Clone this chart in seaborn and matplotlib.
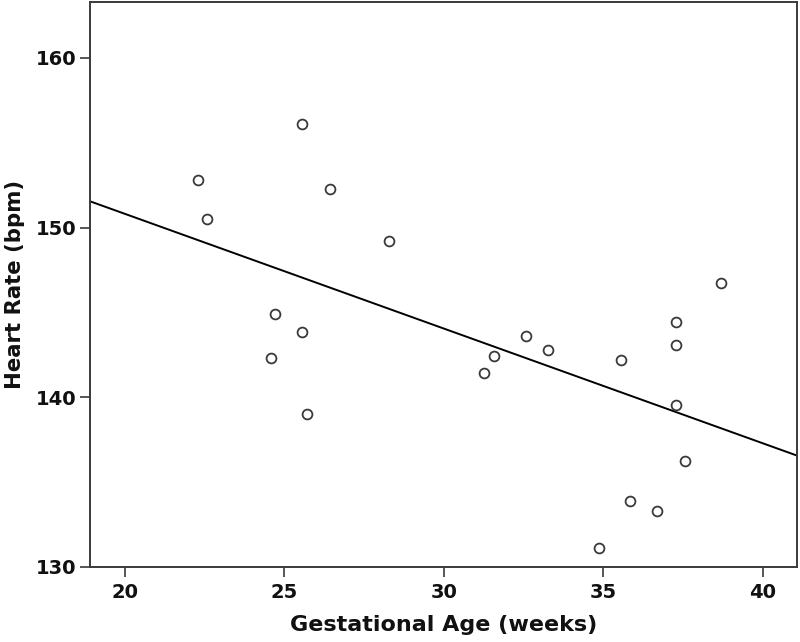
import numpy as np
import pandas as pd
import matplotlib
matplotlib.use("Agg")
import matplotlib.pyplot as plt
import seaborn as sns

# ── Data ──────────────────────────────────────────────────────────────────────

GEST_AGE = [22.29, 22.57, 25.56, 26.42, 28.28, 24.70, 25.56, 24.57, 25.71,
            31.27, 31.57, 32.56, 33.27, 35.55, 37.27, 37.27, 37.27, 38.70,
            37.56, 35.84, 36.69, 34.85]
HEART_RATE = [152.79, 150.52, 156.13, 152.26, 149.22, 144.92, 143.84, 142.30,
              139.00, 141.44, 142.45, 143.60, 142.78, 142.19, 144.45, 143.05,
              139.56, 146.75, 136.26, 133.86, 133.27, 131.13]

X_TICKS = [20, 25, 30, 35, 40]
Y_TICKS = [130, 140, 150, 160]

FRAME = "#3a3a3a"

sns.set_style("ticks")
plt.rcParams["font.family"] = ["DejaVu Sans"]

df = pd.DataFrame({"age": GEST_AGE, "hr": HEART_RATE})

fig = plt.figure(figsize=(8, 6.42), dpi=100)
ax = fig.add_axes([0.1125, 0.1173, 0.884, 0.8796])

# limits first so the fit line spans the full frame
ax.set_xlim(18.9, 41.08)
ax.set_ylim(130, 163.3)

sns.regplot(
    data=df, x="age", y="hr", ax=ax, ci=None, truncate=False,
    scatter_kws=dict(facecolors="white", edgecolors=FRAME, s=50,
                     linewidths=1.3, alpha=1, zorder=3),
    line_kws=dict(color="black", lw=1.4, zorder=2),
)

ax.set_xticks(X_TICKS)
ax.set_yticks(Y_TICKS)
ax.tick_params(axis="both", length=7.5, width=1.2, color=FRAME,
               labelsize=14, labelcolor="#111111")
ax.tick_params(axis="x", pad=4.5)
ax.tick_params(axis="y", pad=2)
for lab in ax.get_xticklabels() + ax.get_yticklabels():
    lab.set_fontweight("bold")

for spine in ax.spines.values():
    spine.set_visible(True)
    spine.set_edgecolor(FRAME)
    spine.set_linewidth(1.4)

ax.set_xlabel("Gestational Age (weeks)", fontsize=16, fontweight="bold",
              color="#111111", labelpad=9)
ax.set_ylabel("Heart Rate (bpm)", fontsize=15.3, fontweight="bold",
              color="#111111", labelpad=8)

fig.savefig("out.png", dpi=100)
